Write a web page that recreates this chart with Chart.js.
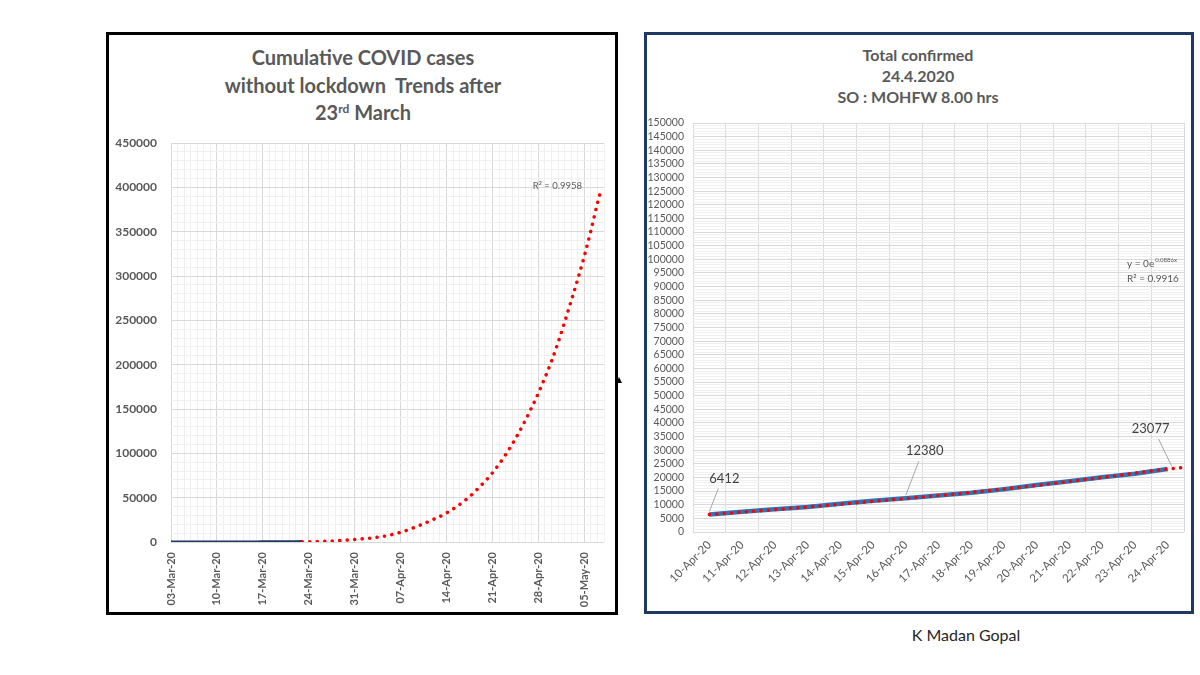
<!DOCTYPE html>
<html>
<head>
<meta charset="utf-8">
<script src="https://cdn.jsdelivr.net/npm/chart.js@4.4.1/dist/chart.umd.min.js"></script>
<style>
    body { margin: 0; width: 1200px; height: 675px; background: #ffffff; position: relative; overflow: hidden; font-family: Lato, 'Open Sans', sans-serif; }
    .box { position: absolute; box-sizing: border-box; }
    #boxLeft { left: 106px; top: 32px; width: 512px; height: 583px; border: 3px solid #000000; }
    #boxRight { left: 644px; top: 32px; width: 550px; height: 582px; border: 3px solid #203864; }
    .title { position: absolute; text-align: center; color: #595959; font-weight: bold; }
    #titleLeft { left: 107px; width: 512px; top: 44px; font-size: 20px; line-height: 27.5px; }
    #titleLeft sup { font-size: 12px; line-height: 0; vertical-align: 7px; }
    #titleRight { left: 645px; width: 546px; top: 44px; font-size: 16px; line-height: 21px; }
    #caption { position: absolute; left: 866px; width: 200px; top: 625px; text-align: center; font-size: 16px; line-height: 20px; color: #262626; }
    #arrow { position: absolute; left: 616px; top: 377px; width: 0; height: 0; border-left: 3px solid transparent; border-right: 3px solid transparent; border-bottom: 6px solid #000; }
    canvas { position: absolute; }
    #leftChart { left: 110px; top: 125px; }
    #rightChart { left: 647px; top: 115px; }
</style>
</head>
<body>
<div class="box" id="boxLeft"></div>
<div class="box" id="boxRight"></div>
<div id="arrow"></div>
<div class="title" id="titleLeft">Cumulative COVID cases<br>without lockdown&nbsp; Trends after<br>23<sup>rd</sup> March</div>
<div class="title" id="titleRight">Total confirmed<br>24.4.2020<br>SO : MOHFW 8.00 hrs</div>
<div id="caption">K Madan Gopal</div>
<canvas id="leftChart" width="505" height="485"></canvas>
<canvas id="rightChart" width="543" height="495"></canvas>

<script>
// ---- 왼쪽 차트 데이터 (day 0 = 03-Mar-20) ----
const leftTickLabels = ['03-Mar-20', '10-Mar-20', '17-Mar-20', '24-Mar-20', '31-Mar-20',
    '07-Apr-20', '14-Apr-20', '21-Apr-20', '28-Apr-20', '05-May-20'];
const leftActualDays = [0, 1, 2, 3, 4, 5, 6, 7, 8, 9, 10, 11, 12, 13, 14, 15, 16, 17, 18, 19, 20];
const leftActualCases = [5, 28, 30, 31, 34, 39, 43, 56, 62, 73, 82, 102, 113, 119, 142, 156, 194, 244, 330, 396, 499];
const leftTrendDays = [20, 24, 28, 32, 35, 38, 40, 42, 45, 47, 49, 51, 53, 55, 56, 58, 59, 60, 61, 62, 63, 64, 65, 65.5];
const leftTrendCases = [200, 900, 2900, 5900, 10900, 19000, 25500, 32700, 48000, 61800, 78000, 98500,
    123000, 152000, 168000, 204000, 225000, 248000, 272000, 296500, 322500, 351000, 382000, 396000];

// ---- 오른쪽 차트 데이터 ----
const rightDates = ['10-Apr-20', '11-Apr-20', '12-Apr-20', '13-Apr-20', '14-Apr-20', '15-Apr-20',
    '16-Apr-20', '17-Apr-20', '18-Apr-20', '19-Apr-20', '20-Apr-20', '21-Apr-20',
    '22-Apr-20', '23-Apr-20', '24-Apr-20'];
const rightConfirmed = [6412, 7447, 8356, 9152, 10363, 11439, 12380, 13387, 14378, 15712,
    17265, 18601, 20080, 21393, 23077];
const rightTrendX = [0, 2, 4, 6, 8, 10, 12, 14, 14.5];
const rightTrendY = [6400, 8200, 10200, 12300, 14500, 17100, 20000, 23100, 23700];
const rightLabelIndex = [0, 6, 14];

const textGrey = '#595959';
const gridMajor = '#d9d9d9';
const gridMinor = '#f0f0f0';

/**
 * 좌표 배열 두 개를 {x, y} 로 묶기
 */
function zipPoints(xs, ys) {
    return xs.map((x, i) => ({ x: x, y: ys[i] }));
}

// 축 크기 고정 (라벨이 넘치는 여백은 layout.padding 으로만 처리)
function fixWidth(w) {
    return function(scale) {
        scale.width = w;
        scale.paddingTop = 0;
        scale.paddingBottom = 0;
    };
}
function fixHeight(h) {
    return function(scale) {
        scale.height = h;
        scale.paddingLeft = 0;
        scale.paddingRight = 0;
    };
}

// 왼쪽 차트 R² 표시
const leftNotePlugin = {
    id: 'leftNote',
    afterDatasetsDraw(chart) {
        const ctx = chart.ctx;
        const area = chart.chartArea;
        ctx.save();
        ctx.font = '9.5px Lato';
        ctx.fillStyle = textGrey;
        ctx.textAlign = 'right';
        ctx.textBaseline = 'middle';
        ctx.fillText('R² = 0.9958', area.right - 22, area.top + 43);
        ctx.restore();
    }
};

// 오른쪽 차트 데이터 라벨 + 추세식
const rightNotePlugin = {
    id: 'rightNote',
    afterDatasetsDraw(chart) {
        const ctx = chart.ctx;
        const area = chart.chartArea;
        const meta = chart.getDatasetMeta(1);
        const offsets = [[15, -36], [19, -47], [-17, -40]];
        ctx.save();
        rightLabelIndex.forEach((idx, k) => {
            const pt = meta.data[idx];
            const tx = pt.x + offsets[k][0];
            const ty = pt.y + offsets[k][1];
            ctx.strokeStyle = '#a6a6a6';
            ctx.lineWidth = 1;
            ctx.beginPath();
            ctx.moveTo(tx + (offsets[k][0] > 0 ? -6 : 8), ty + 10);
            ctx.lineTo(pt.x + (offsets[k][0] > 0 ? 0 : 4), pt.y - 3);
            ctx.stroke();
            ctx.font = '13px Lato';
            ctx.fillStyle = '#404040';
            ctx.textAlign = 'center';
            ctx.textBaseline = 'middle';
            ctx.fillText(String(rightConfirmed[idx]), tx, ty);
        });

        // 추세선 식
        const ex = area.right - 57;
        const ey = area.top + 141;
        ctx.fillStyle = textGrey;
        ctx.textAlign = 'left';
        ctx.font = '10px Lato';
        const base = 'y = 0e';
        ctx.fillText(base, ex, ey);
        const bw = ctx.measureText(base).width;
        ctx.font = '6px Lato';
        ctx.fillText('0.0886x', ex + bw + 1, ey - 4);
        ctx.font = '10px Lato';
        ctx.fillText('R² = 0.9916', ex, ey + 15);
        ctx.restore();
    }
};

document.addEventListener('DOMContentLoaded', function() {
    Chart.defaults.font.family = 'Lato';
    Chart.defaults.color = textGrey;

    // ---- 왼쪽: 누적 확진 + 추세 ----
    new Chart(document.getElementById('leftChart'), {
        type: 'line',
        data: {
            datasets: [
                {
                    data: zipPoints(leftTrendDays, leftTrendCases),
                    borderColor: '#ff0000',
                    borderWidth: 3.5,
                    borderDash: [0.1, 7.4],
                    borderCapStyle: 'round',
                    cubicInterpolationMode: 'monotone',
                    pointRadius: 0
                },
                {
                    data: zipPoints(leftActualDays, leftActualCases),
                    borderColor: '#1f3864',
                    borderWidth: 3,
                    pointRadius: 0
                }
            ]
        },
        options: {
            responsive: false,
            animation: false,
            layout: { padding: { top: 18, right: 11, left: 0, bottom: 0 } },
            plugins: { legend: { display: false }, tooltip: { enabled: false } },
            scales: {
                x: {
                    type: 'linear',
                    min: 0,
                    max: 66,
                    afterFit: fixHeight(68),
                    border: { display: false },
                    grid: {
                        drawTicks: false,
                        color: c => (c.tick && c.tick.value % 7 === 0) ? gridMajor : gridMinor
                    },
                    ticks: {
                        stepSize: 1,
                        autoSkip: false,
                        minRotation: 90,
                        maxRotation: 90,
                        padding: 10,
                        font: { size: 11, weight: 'bold' },
                        callback: v => (v % 7 === 0) ? leftTickLabels[v / 7] : ''
                    }
                },
                y: {
                    min: 0,
                    max: 450000,
                    afterFit: fixWidth(61),
                    border: { display: false },
                    grid: {
                        drawTicks: false,
                        color: c => (c.tick && c.tick.value % 50000 === 0) ? gridMajor : gridMinor
                    },
                    ticks: {
                        stepSize: 10000,
                        autoSkip: false,
                        padding: 14,
                        font: { size: 12, weight: 'bold' },
                        callback: v => (v % 50000 === 0) ? String(v) : ''
                    }
                }
            }
        },
        plugins: [leftNotePlugin]
    });

    // ---- 오른쪽: 누적 확진 (10~24 Apr) ----
    new Chart(document.getElementById('rightChart'), {
        type: 'line',
        data: {
            labels: rightDates,
            datasets: [
                {
                    xAxisID: 'x2',
                    data: zipPoints(rightTrendX, rightTrendY),
                    borderColor: '#ff0000',
                    borderWidth: 3.5,
                    borderDash: [0.1, 7.3],
                    borderCapStyle: 'round',
                    cubicInterpolationMode: 'monotone',
                    pointRadius: 0
                },
                {
                    data: rightConfirmed,
                    borderColor: '#2e75b6',
                    borderWidth: 4.5,
                    pointRadius: 0
                }
            ]
        },
        options: {
            responsive: false,
            animation: false,
            layout: { padding: { top: 8, right: 6, left: 0, bottom: 0 } },
            plugins: { legend: { display: false }, tooltip: { enabled: false } },
            scales: {
                x: {
                    type: 'category',
                    offset: true,
                    afterFit: fixHeight(78),
                    border: { display: false },
                    grid: { offset: true, drawTicks: false, color: gridMajor },
                    ticks: {
                        autoSkip: false,
                        minRotation: 45,
                        maxRotation: 45,
                        padding: 6,
                        font: { size: 11.5 }
                    }
                },
                x2: {
                    type: 'linear',
                    display: false,
                    min: -0.5,
                    max: 14.5
                },
                y: {
                    min: 0,
                    max: 150000,
                    afterFit: fixWidth(46),
                    border: { display: false },
                    grid: {
                        drawTicks: false,
                        color: c => (c.tick && c.tick.value % 5000 === 0) ? gridMajor : gridMinor
                    },
                    ticks: {
                        stepSize: 1000,
                        autoSkip: false,
                        padding: 9,
                        font: { size: 10.5 },
                        callback: v => (v % 5000 === 0) ? String(v) : ''
                    }
                }
            }
        },
        plugins: [rightNotePlugin]
    });
});
</script>
</body>
</html>
